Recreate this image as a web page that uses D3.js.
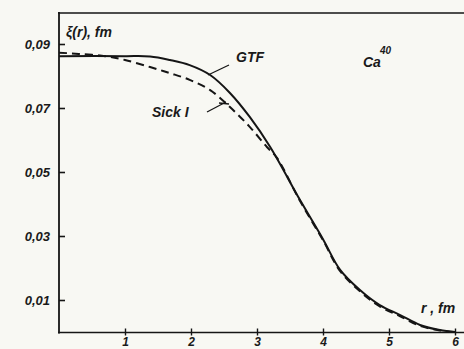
<!DOCTYPE html>
<html><head><meta charset="utf-8">
<script src="https://cdn.jsdelivr.net/npm/d3@7"></script>
<style>
html,body{margin:0;padding:0;background:#f8f8f3;}
svg{display:block;}
text{font-family:"Liberation Sans",Arial,sans-serif;font-style:italic;font-weight:bold;fill:#1a1a1a;}
</style></head>
<body>
<svg id="c" width="464" height="349"></svg>
<script>
// Data
const rGTF = [0, 1, 1.38, 1.68, 1.98, 2.29, 2.59, 2.89, 3.2, 3.65, 4.0, 4.26, 4.56, 4.86, 5.17, 5.47, 5.77, 6];
const vGTF = [0.0862, 0.0862, 0.0861, 0.0850, 0.0834, 0.0803, 0.0747, 0.0672, 0.0578, 0.0413, 0.0290, 0.0194, 0.0131, 0.0084, 0.0053, 0.0022, 0.0006, 0.0];
const rSick = [0, 0.3, 0.7, 1, 1.38, 1.68, 1.98, 2.29, 2.59, 2.89, 3.15, 3.3, 3.65, 4, 4.26, 4.56, 4.86, 5.17, 5.47, 5.77, 6];
const vSick = [0.0873, 0.0869, 0.0862, 0.0850, 0.0828, 0.0809, 0.0788, 0.0756, 0.0703, 0.0641, 0.0578, 0.0545, 0.0410, 0.0287, 0.0190, 0.0127, 0.0080, 0.0049, 0.0019, 0.0005, 0.0];
const xTicks = [1, 2, 3, 4, 5, 6];
const yTicks = [0.01, 0.03, 0.05, 0.07, 0.09];

const svg = d3.select("#c");
const x = d3.scaleLinear().domain([0, 6]).range([59, 455]);
const y = d3.scaleLinear().domain([0, 0.1]).range([332, 12]);
const ink = "#151515";

// frame top line
svg.append("line").attr("x1", 58).attr("x2", 464).attr("y1", 13).attr("y2", 13)
  .attr("stroke", ink).attr("stroke-width", 1.6);

// Y axis
const yAxis = svg.append("g").attr("transform", "translate(59,0)")
  .call(d3.axisLeft(y).tickValues(yTicks).tickSize(-6).tickPadding(9)
    .tickFormat(d => d3.format(".2f")(d).replace(".", ",")));
yAxis.select(".domain").remove();
yAxis.selectAll(".tick line").attr("stroke", ink).attr("stroke-width", 1.6);
yAxis.selectAll("text").attr("font-size", 13).attr("dy", "0.35em")
  .style("font-family", "'Liberation Sans',Arial,sans-serif");
svg.append("line").attr("x1", 59).attr("x2", 59).attr("y1", 12).attr("y2", 333.5)
  .attr("stroke", ink).attr("stroke-width", 1.8);

// X axis
const xAxis = svg.append("g").attr("transform", "translate(0,332.5)")
  .call(d3.axisBottom(x).tickValues(xTicks).tickSize(3).tickFormat(d3.format("d")));
xAxis.select(".domain").remove();
xAxis.selectAll(".tick line").attr("y1", -4).attr("y2", 3).attr("stroke", ink).attr("stroke-width", 1.4);
xAxis.selectAll("text").attr("font-size", 12).attr("y", 13).attr("dy", 0)
  .style("font-family", "'Liberation Sans',Arial,sans-serif");
svg.append("line").attr("x1", 58).attr("x2", 464).attr("y1", 332.5).attr("y2", 332.5)
  .attr("stroke", ink).attr("stroke-width", 1.6);

// curves
const line = d3.line().x(d => x(d[0])).y(d => y(d[1])).curve(d3.curveCatmullRom.alpha(0.5));
svg.append("path").datum(rGTF.map((r, i) => [r, vGTF[i]]))
  .attr("d", line).attr("fill", "none").attr("stroke", ink).attr("stroke-width", 2);
svg.append("path").datum(rSick.map((r, i) => [r, vSick[i]]))
  .attr("d", line).attr("fill", "none").attr("stroke", ink).attr("stroke-width", 2)
  .attr("stroke-dasharray", "8,5");

// labels
svg.append("text").attr("x", 66).attr("y", 37).attr("font-size", 14).text("ξ(r), fm");
svg.append("text").attr("x", 236).attr("y", 62).attr("font-size", 14).text("GTF");
svg.append("line").attr("x1", 208).attr("y1", 75).attr("x2", 229).attr("y2", 65)
  .attr("stroke", ink).attr("stroke-width", 1.3);
svg.append("text").attr("x", 152).attr("y", 117).attr("font-size", 14).text("Sick I");
svg.append("line").attr("x1", 207).attr("y1", 112).attr("x2", 226).attr("y2", 102)
  .attr("stroke", ink).attr("stroke-width", 1.3);
svg.append("line").attr("x1", 219).attr("y1", 103).attr("x2", 229).attr("y2", 104)
  .attr("stroke", ink).attr("stroke-width", 1.3);
const ca = svg.append("text").attr("x", 363).attr("y", 67).attr("font-size", 14);
ca.append("tspan").text("Ca");
ca.append("tspan").attr("font-size", 10).attr("dy", -13).attr("dx", -1).text("40");
svg.append("text").attr("x", 421).attr("y", 313).attr("font-size", 14).text("r , fm");
</script>
</body></html>
